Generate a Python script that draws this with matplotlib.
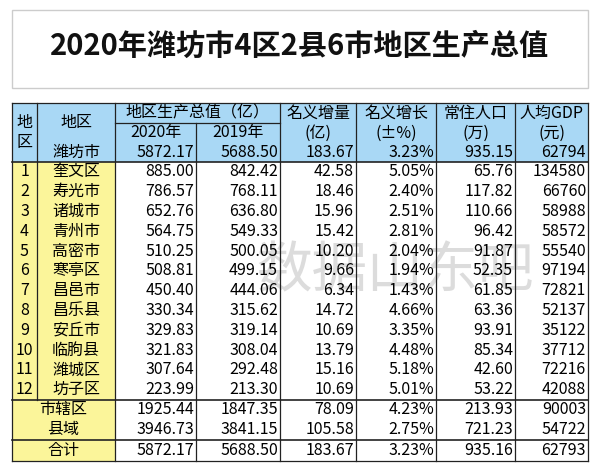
import matplotlib
matplotlib.use("Agg")
import matplotlib.pyplot as plt
from matplotlib.patches import Rectangle
from matplotlib import font_manager as fm

names = sorted({f.name for f in fm.fontManager.ttflist if "CJK" in f.name})
pick = None
for want in ["Noto Sans CJK SC", "Noto Sans CJK JP"]:
    if want in names:
        pick = want; break
if pick is None:
    sans = [n for n in names if "Sans" in n]
    pick = (sans or names or ["DejaVu Sans"])[0]
plt.rcParams["font.family"] = [pick, "DejaVu Sans"]

title = "2020年潍坊市4区2县6市地区生产总值"
regions = ["奎文区", "寿光市", "诸城市", "青州市", "高密市", "寒亭区", "昌邑市", "昌乐县", "安丘市", "临朐县", "潍城区", "坊子区"]
gdp2020 = ["885.00", "786.57", "652.76", "564.75", "510.25", "508.81", "450.40", "330.34", "329.83", "321.83", "307.64", "223.99"]
gdp2019 = ["842.42", "768.11", "636.80", "549.33", "500.05", "499.15", "444.06", "315.62", "319.14", "308.04", "292.48", "213.30"]
incr = ["42.58", "18.46", "15.96", "15.42", "10.20", "9.66", "6.34", "14.72", "10.69", "13.79", "15.16", "10.69"]
growth = ["5.05%", "2.40%", "2.51%", "2.81%", "2.04%", "1.94%", "1.43%", "4.66%", "3.35%", "4.48%", "5.18%", "5.01%"]
pop = ["65.76", "117.82", "110.66", "96.42", "91.87", "52.35", "61.85", "63.36", "93.91", "85.34", "42.60", "53.22"]
pgdp = ["134580", "66760", "58988", "58572", "55540", "97194", "72821", "52137", "35122", "37712", "72216", "42088"]
city_row = ["潍坊市", "5872.17", "5688.50", "183.67", "3.23%", "935.15", "62794"]
summary_labels = ["市辖区", "县域", "合计"]
summary_vals = [["1925.44", "1847.35", "78.09", "4.23%", "213.93", "90003"],
                ["3946.73", "3841.15", "105.58", "2.75%", "721.23", "54722"],
                ["5872.17", "5688.50", "183.67", "3.23%", "935.16", "62793"]]

fig = plt.figure(figsize=(6, 4.7), dpi=100)
ax = fig.add_axes([0, 0, 1, 1])
ax.set_xlim(0, 600); ax.set_ylim(470, 0); ax.axis("off")

BLUE = "#a9d8f5"; YEL = "#fbf59a"; LC = "#222222"
xs = [12, 37, 115, 196, 280, 356, 436, 515, 588]
top, h1, h2, h3 = 103, 123, 143, 162
rh = 19.8
rows_y = [h3 + i * rh for i in range(13)]
s1, s2 = rows_y[-1], rows_y[-1] + 20
sep = s2 + 20
bot = sep + 21

ax.add_patch(Rectangle((12, 10), 576, 78, fill=False, ec="#cccccc", lw=1))
ax.text(300, 46, title, ha="center", va="center", fontsize=21, fontweight="bold", color="#111")

ax.add_patch(Rectangle((xs[0], top), xs[-1] - xs[0], h3 - top, color=BLUE, lw=0))
ax.add_patch(Rectangle((xs[0], h3), xs[2] - xs[0], bot - h3, color=YEL, lw=0))

def hl(y, x0, x1, lw=0.9):
    ax.plot([x0, x1], [y, y], color=LC, lw=lw)
def vl(x, y0, y1, lw=0.9):
    ax.plot([x, x], [y0, y1], color=LC, lw=lw)

hl(top, xs[0], xs[-1]); hl(h1, xs[2], xs[4]); hl(h3, xs[0], xs[-1], 1.2)
hl(s1, xs[0], xs[-1], 1.2); hl(sep, xs[0], xs[-1], 1.2); hl(bot, xs[0], xs[-1])
for i, x in enumerate(xs):
    if i == 1:
        vl(x, top, s1)
    elif i == 3:
        vl(x, h1, bot)
    else:
        vl(x, top, bot)

ax.text(395, 272, "数据山东吧", ha="center", va="center", fontsize=40, color="#c0c0c0", alpha=0.55, zorder=0)

fs = 11.5
ax.text((xs[0] + xs[1]) / 2, (top + h3) / 2, "地\n区", ha="center", va="center", fontsize=fs, linespacing=1.3)
ax.text((xs[1] + xs[2]) / 2, (top + h2) / 2, "地区", ha="center", va="center", fontsize=fs)
ax.text((xs[2] + xs[4]) / 2, (top + h1) / 2, "地区生产总值（亿）", ha="center", va="center", fontsize=fs)
ax.text((xs[2] + xs[3]) / 2, (h1 + h2) / 2, "2020年", ha="center", va="center", fontsize=fs)
ax.text((xs[3] + xs[4]) / 2, (h1 + h2) / 2, "2019年", ha="center", va="center", fontsize=fs)
heads = [("名义增量", "(亿)"), ("名义增长", "(±%)"), ("常住人口", "(万)"), ("人均GDP", "(元)")]
for j, (a, b) in enumerate(heads):
    cx = (xs[4 + j] + xs[5 + j]) / 2
    ax.text(cx, (top + h1) / 2, a, ha="center", va="center", fontsize=fs)
    ax.text(cx, (h1 + h2) / 2, b, ha="center", va="center", fontsize=fs)

def rowvals(yc, vals):
    for j, v in enumerate(vals):
        ax.text(xs[3 + j] - 2, yc, v, ha="right", va="center", fontsize=fs)

yc = (h2 + h3) / 2
ax.text((xs[1] + xs[2]) / 2, yc, city_row[0], ha="center", va="center", fontsize=fs)
rowvals(yc, city_row[1:])

for i in range(12):
    yc = rows_y[i] + rh / 2
    ax.text((xs[0] + xs[1]) / 2, yc, str(i + 1), ha="center", va="center", fontsize=fs)
    ax.text((xs[1] + xs[2]) / 2, yc, regions[i], ha="center", va="center", fontsize=fs)
    rowvals(yc, [gdp2020[i], gdp2019[i], incr[i], growth[i], pop[i], pgdp[i]])

for k, yc in enumerate([s1 + 10, s2 + 10, sep + 10.5]):
    ax.text((xs[0] + xs[2]) / 2, yc, summary_labels[k], ha="center", va="center", fontsize=fs)
    rowvals(yc, summary_vals[k])

fig.savefig("out.png", dpi=100)
